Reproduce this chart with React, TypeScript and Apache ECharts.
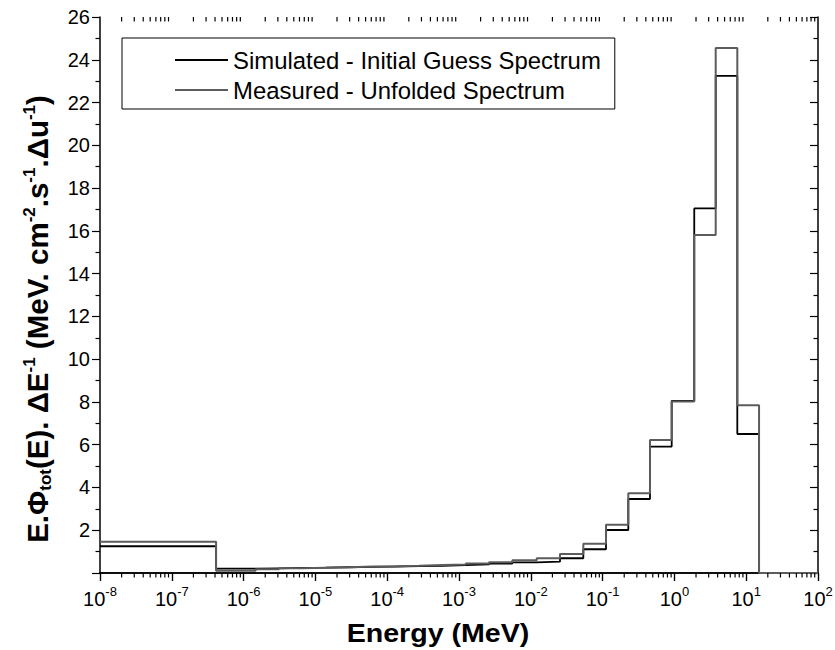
import React, { useEffect, useRef } from "react";
import * as echarts from "echarts";

// Bin edges (MeV)
const energyEdges = [
  1e-8, 4.14e-7, 1.47e-6, 3.11e-6, 6.57e-6, 1.39e-5, 2.94e-5, 6.2e-5, 1.31e-4,
  2.77e-4, 5.86e-4, 1.24e-3, 2.62e-3, 5.53e-3, 1.21e-2, 2.55e-2, 5.39e-2,
  0.1115, 0.228, 0.457, 0.917, 1.89, 3.76, 7.52, 15.1, 100,
];
// Bin values (one per bin)
const simulated = [
  1.25, 0.2, 0.22, 0.24, 0.25, 0.27, 0.29, 0.3, 0.32, 0.34, 0.37, 0.4, 0.44,
  0.5, 0.53, 0.69, 1.11, 2.01, 3.46, 5.91, 8.05, 17.05, 23.25, 6.5, 0,
];
const measured = [
  1.46, 0.1, 0.18, 0.22, 0.25, 0.27, 0.3, 0.32, 0.34, 0.37, 0.4, 0.44, 0.5,
  0.6, 0.69, 0.89, 1.37, 2.26, 3.73, 6.22, 8.02, 15.8, 24.55, 7.85, 0,
];
const seriesNames = [
  "Simulated - Initial Guess Spectrum",
  "Measured - Unfolded Spectrum",
];
const decadeExponents = [-8, -7, -6, -5, -4, -3, -2, -1, 0, 1];
const minorMultipliers = [2, 3, 4, 5, 6, 7, 8, 9];

const FONT = '"Liberation Sans", Arial, sans-serif';

function histPoints(values: number[]) {
  const pts: number[][] = [];
  values.forEach((v, i) => {
    pts.push([energyEdges[i], v]);
    pts.push([energyEdges[i + 1], v]);
  });
  return pts;
}

export default function App() {
  const ref = useRef<HTMLDivElement>(null);
  useEffect(() => {
    if (!ref.current) return;
    const chart = echarts.init(ref.current, null, { renderer: "svg" });
    const minorTicks: number[][] = [];
    decadeExponents.forEach((e) =>
      minorMultipliers.forEach((m) => minorTicks.push([m * Math.pow(10, e), 0]))
    );
    const axisLine = { show: true, lineStyle: { color: "#000", width: 1.5 } };
    const xCommon = {
      type: "log" as const,
      logBase: 10,
      min: 1e-8,
      max: 100,
      interval: 1,
      splitNumber: 10,
      splitLine: { show: false },
      axisLine,
    };
    const yCommon = {
      type: "value" as const,
      min: 0,
      max: 26,
      interval: 2,
      splitLine: { show: false },
      axisLine,
      minorTick: { show: true, splitNumber: 2, length: 4.5, lineStyle: { color: "#000", width: 1.2 } },
      minorSplitLine: { show: false },
    };
    chart.setOption({
      animation: false,
      backgroundColor: "#fff",
      textStyle: { fontFamily: FONT },
      grid: { left: 100, right: 17, top: 17, bottom: 77, containLabel: false, outerBoundsMode: "none" },
      legend: {
        data: seriesNames,
        orient: "vertical",
        left: 122,
        top: 38,
        padding: [10, 14, 7, 52],
        itemGap: 6,
        itemWidth: 53,
        itemHeight: 22,
        borderColor: "#000",
        borderWidth: 1,
        itemStyle: { opacity: 0 },
        textStyle: { fontSize: 23.9, color: "#000", fontFamily: FONT },
      },
      xAxis: [
        {
          ...xCommon,
          position: "bottom",
          axisTick: { show: true, inside: false, length: 8, lineStyle: { color: "#000", width: 1.2 } },
          axisLabel: {
            margin: 12,
            color: "#000",
            formatter: (v: number) => `{b|10}{s|${Math.round(Math.log10(v))}}`,
            rich: {
              b: { fontSize: 20, fontFamily: FONT, color: "#000", lineHeight: 24, verticalAlign: "bottom" },
              s: { fontSize: 13, fontFamily: FONT, color: "#000", lineHeight: 13, verticalAlign: "top" },
            },
          },
        },
        {
          ...xCommon,
          position: "top",
          axisTick: { show: true, inside: true, length: 8, lineStyle: { color: "#000", width: 1.2 } },
          axisLabel: { show: false },
        },
      ],
      yAxis: [
        {
          ...yCommon,
          position: "left",
          axisTick: { show: true, inside: false, length: 8, lineStyle: { color: "#000", width: 1.2 } },
          axisLabel: {
            margin: 10,
            fontSize: 20,
            color: "#000",
            fontFamily: FONT,
            formatter: (v: number) => (v === 0 ? "" : String(v)),
          },
        },
        {
          ...yCommon,
          position: "right",
          axisTick: { show: true, inside: true, length: 8, lineStyle: { color: "#000", width: 1.2 } },
          axisLabel: { show: false },
        },
      ],
      graphic: [
        {
          type: "text",
          x: 438,
          y: 633,
          scaleX: 1.1,
          style: {
            text: "Energy (MeV)",
            fontSize: 26,
            fontWeight: "bold",
            fontFamily: FONT,
            fill: "#000",
            textAlign: "center",
            textVerticalAlign: "middle",
          },
        },
        {
          type: "text",
          x: 37,
          y: 319,
          rotation: Math.PI / 2,
          style: {
            text:
              "{n|E.Φ}{sub|tot}{n|(E). ΔE}{sup|-1}{n| (MeV. cm}{sup|-2}{n|.s}{sup|-1}{n|.Δu}{sup|-1}{n|)}",
            textAlign: "center",
            textVerticalAlign: "middle",
            fill: "#000",
            rich: {
              n: { fontSize: 29.5, fontWeight: "bold", fontFamily: FONT, fill: "#000", lineHeight: 33, verticalAlign: "middle" },
              sub: { fontSize: 17, fontWeight: "bold", fontFamily: FONT, fill: "#000", lineHeight: 17, verticalAlign: "bottom" },
              sup: { fontSize: 17, fontWeight: "bold", fontFamily: FONT, fill: "#000", lineHeight: 17, verticalAlign: "top" },
            },
          },
        },
      ],
      series: [
        {
          name: seriesNames[0],
          type: "line",
          data: histPoints(simulated),
          symbol: "none",
          color: "#000",
          lineStyle: { color: "#000", width: 1.8 },
          z: 3,
        },
        {
          name: seriesNames[1],
          type: "line",
          data: histPoints(measured),
          symbol: "none",
          color: "#5c5c5c",
          lineStyle: { color: "#5c5c5c", width: 2 },
          z: 4,
        },
        {
          type: "custom",
          silent: true,
          clip: false,
          z: 5,
          data: minorTicks,
          renderItem: (params: any, api: any) => {
            const pt = api.coord([api.value(0), 0]);
            const cs = params.coordSys;
            const st = { stroke: "#000", lineWidth: 1.2 };
            return {
              type: "group",
              children: [
                { type: "line", shape: { x1: pt[0], y1: cs.y + cs.height, x2: pt[0], y2: cs.y + cs.height + 4.5 }, style: st },
                { type: "line", shape: { x1: pt[0], y1: cs.y, x2: pt[0], y2: cs.y + 4.5 }, style: st },
              ],
            };
          },
        },
      ],
    });
    return () => chart.dispose();
  }, []);
  return (
    <div
      ref={ref}
      style={{ position: "fixed", left: 0, top: 0, width: 835, height: 650, background: "#fff" }}
    />
  );
}
